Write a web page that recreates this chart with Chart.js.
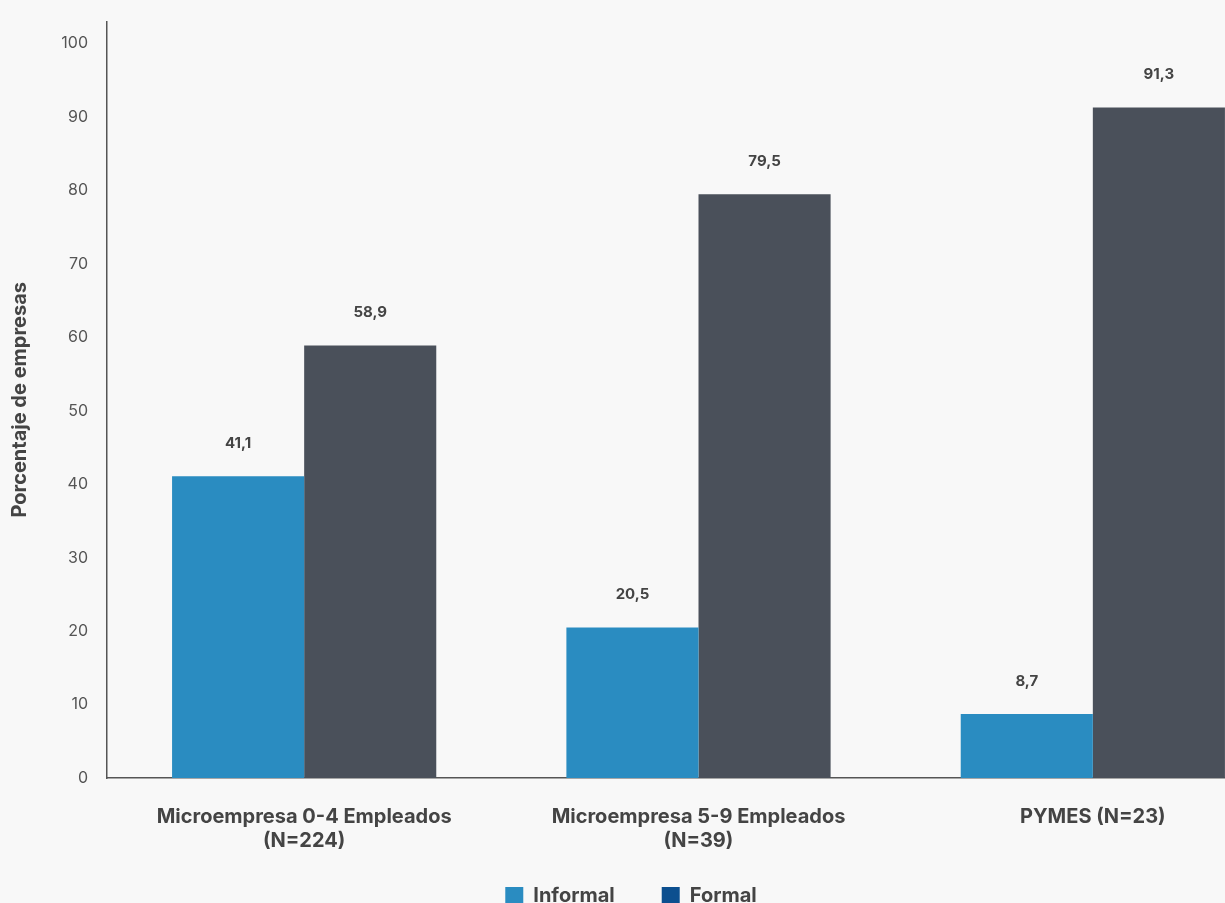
<!DOCTYPE html>
<html>
<head>
<meta charset="utf-8">
<script src="https://cdn.jsdelivr.net/npm/chart.js@4"></script>
<style>
  html, body { margin: 0; padding: 0; background: #f8f8f8; overflow: hidden; }
  #wrap { width: 1290px; height: 930px; }
</style>
</head>
<body>
<div id="wrap"><canvas id="chart" width="1290" height="930"></canvas></div>
<script>
const categories = [
  ["Microempresa 0-4 Empleados", "(N=224)"],
  ["Microempresa 5-9 Empleados", "(N=39)"],
  ["PYMES (N=23)"]
];
const informal = [41.1, 20.5, 8.7];
const formal = [58.9, 79.5, 91.3];
const yTicks = [0, 10, 20, 30, 40, 50, 60, 70, 80, 90, 100];

const FONT = "Inter, 'Open Sans', sans-serif";
const TEXT = "#444";

// value labels above each bar, decimal comma
const valueLabels = {
  id: "valueLabels",
  afterDatasetsDraw(chart) {
    const ctx = chart.ctx;
    ctx.save();
    ctx.font = "bold 15px " + FONT;
    ctx.fillStyle = TEXT;
    ctx.textAlign = "center";
    ctx.textBaseline = "middle";
    chart.data.datasets.forEach((ds, i) => {
      chart.getDatasetMeta(i).data.forEach((bar, j) => {
        ctx.fillText(ds.data[j].toFixed(1).replace(".", ","), bar.x, bar.y - 33);
      });
    });
    ctx.restore();
  }
};

const bg = {
  id: "bg",
  beforeDraw(chart) {
    const ctx = chart.ctx;
    ctx.save();
    ctx.fillStyle = "#f8f8f8";
    ctx.fillRect(0, 0, chart.width, chart.height);
    ctx.restore();
  }
};

// pull the legend up and a bit left
const legendShift = {
  id: "legendShift",
  afterLayout(chart) {
    const lg = chart.legend;
    lg.left -= 14;
    lg.right -= 14;
    lg.top -= 14;
    lg.bottom -= 14;
  }
};

new Chart(document.getElementById("chart"), {
  type: "bar",
  data: {
    labels: categories,
    datasets: [
      { label: "Informal", data: informal, backgroundColor: "#2a8cc1", legendColor: "#2a8cc1" },
      { label: "Formal", data: formal, backgroundColor: "#4a505a", legendColor: "#0c4f8f" }
    ]
  },
  options: {
    responsive: false,
    animation: false,
    devicePixelRatio: 1,
    categoryPercentage: 0.67,
    barPercentage: 1,
    layout: { padding: { top: 18, left: 0, right: 0, bottom: 0 } },
    scales: {
      x: {
        afterFit: axis => { axis.height = 75; },
        grid: { display: false, drawTicks: false },
        border: { color: "#555", width: 1.5 },
        ticks: {
          padding: 27,
          color: TEXT,
          font: { family: FONT, size: 20, weight: "bold", lineHeight: "24px" }
        }
      },
      y: {
        min: 0,
        max: 103,
        afterFit: axis => { axis.width = 107; },
        afterBuildTicks: axis => { axis.ticks = yTicks.map(v => ({ value: v })); },
        grid: { display: false, drawTicks: true, tickLength: 7, tickColor: "#555", tickWidth: 1.5 },
        border: { color: "#555", width: 1.5 },
        ticks: {
          padding: 12,
          color: "#555",
          font: { family: FONT, size: 16 }
        },
        title: {
          display: true,
          text: "Porcentaje de empresas",
          color: TEXT,
          padding: { top: 8, bottom: 0 },
          font: { family: FONT, size: 20, weight: "bold" }
        }
      }
    },
    plugins: {
      tooltip: { enabled: false },
      legend: {
        position: "bottom",
        labels: {
          color: TEXT,
          boxWidth: 18,
          boxHeight: 18,
          padding: 47,
          font: { family: FONT, size: 20, weight: "bold" },
          generateLabels: chart => chart.data.datasets.map((ds, i) => ({
            text: ds.label,
            fillStyle: ds.legendColor,
            strokeStyle: ds.legendColor,
            lineWidth: 0,
            datasetIndex: i,
            fontColor: TEXT
          }))
        }
      }
    }
  },
  plugins: [bg, legendShift, valueLabels]
});
</script>
</body>
</html>
